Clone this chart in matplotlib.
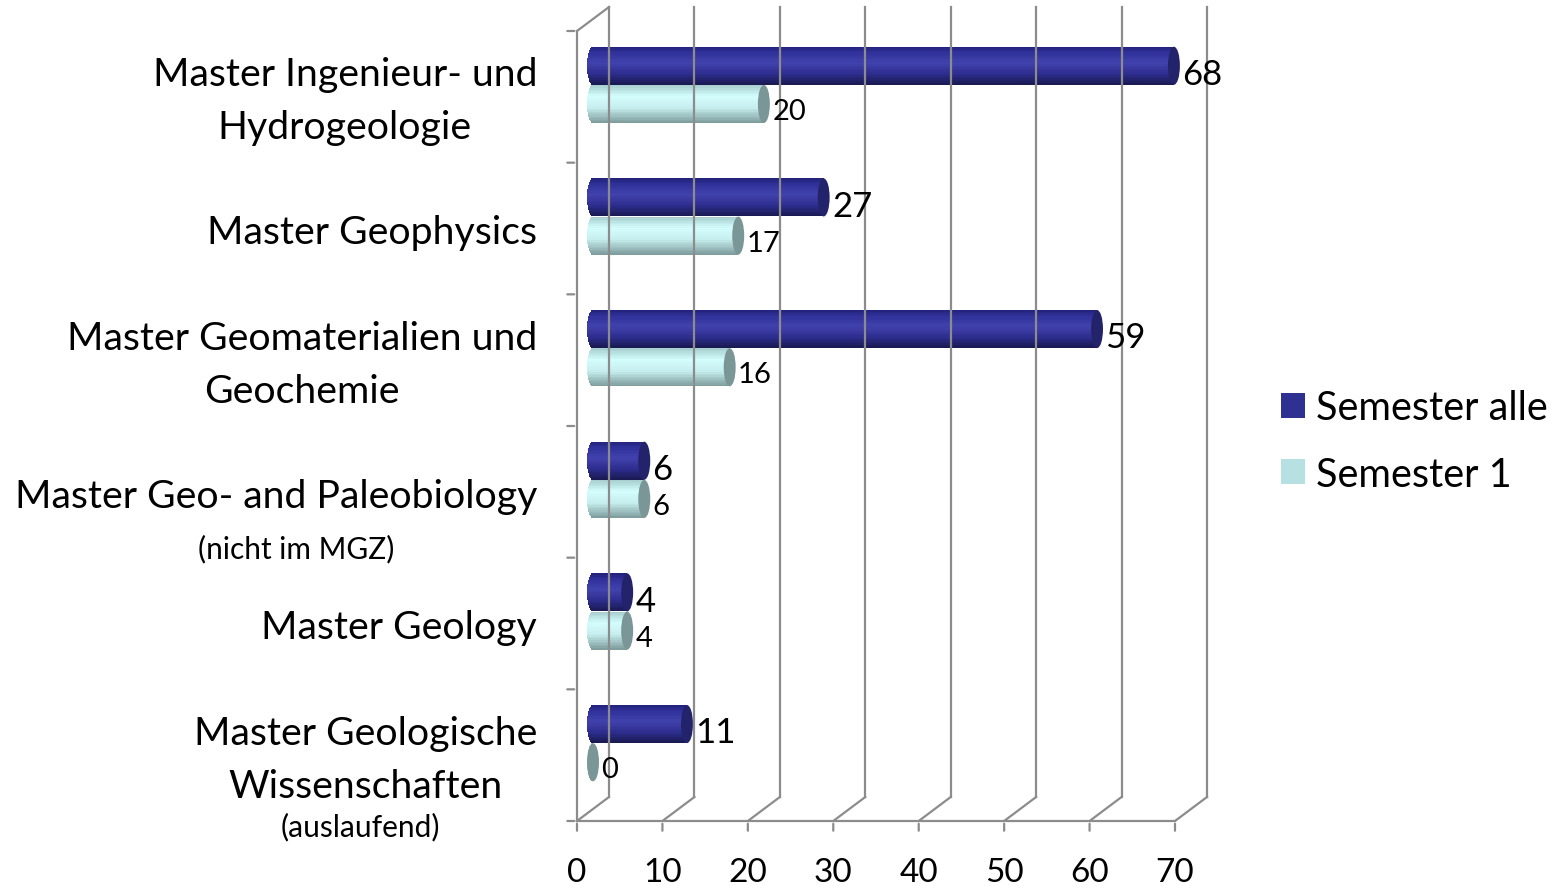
import numpy as np
import matplotlib
matplotlib.use("Agg")
import matplotlib.pyplot as plt
import matplotlib.transforms as mtransforms
from matplotlib.patches import Ellipse, Patch

plt.rcParams['font.family'] = ['Lato', 'DejaVu Sans']

# Daten (von unten nach oben)
categories = [
    "Master Geologische\nWissenschaften",
    "Master Geology",
    "Master Geo- and Paleobiology",
    "Master Geomaterialien und\nGeochemie",
    "Master Geophysics",
    "Master Ingenieur- und\nHydrogeologie",
]
notes = {0: "(auslaufend)", 2: "(nicht im MGZ)"}
semester_alle = [11, 4, 6, 59, 27, 68]
semester_1 = [0, 4, 6, 16, 17, 20]
x_ticks = [0, 10, 20, 30, 40, 50, 60, 70]

W, H = 1560, 887
fig = plt.figure(figsize=(15.6, 8.87), dpi=100)
ax = fig.add_axes([577 / W, (H - 822) / H, (1175 - 577) / W, (822 - 32) / H])
ax.set_xlim(0, 70)
ax.set_ylim(0, 6)
ax.axis('off')

# Tiefe des 3D-Effekts (in Pixeln)
back = mtransforms.offset_copy(ax.transData, fig=fig, x=32, y=24, units='dots')
mid = mtransforms.offset_copy(ax.transData, fig=fig, x=16, y=12, units='dots')

grid_c = '#8c8c8c'
lw = 1.6

# Rückwand: vertikale Gitterlinien + Bodenlinien
for xt in x_ticks:
    ax.plot([xt, xt], [0, 6], color=grid_c, lw=lw, transform=back, clip_on=False)
    # Diagonale vom vorderen Boden zur Rückwand
    p0 = ax.transData.transform((xt, 0))
    p1 = back.transform((xt, 0))
    fig.add_artist(plt.Line2D([p0[0] / W, p1[0] / W], [p0[1] / H, p1[1] / H],
                              color=grid_c, lw=lw))
    # Tickmarke unten
    ax.annotate('', xy=(xt, 0), xytext=(0, -9), textcoords='offset points',
                arrowprops=dict(arrowstyle='-', color=grid_c, lw=lw))
    ax.annotate(str(xt), xy=(xt, 0), xytext=(0, -37), textcoords='offset points',
                ha='center', va='center', fontsize=24)

# vordere Achsen
ax.plot([0, 70], [0, 0], color=grid_c, lw=lw, clip_on=False)
ax.plot([0, 0], [0, 6], color=grid_c, lw=lw, clip_on=False)
p0 = ax.transData.transform((0, 6))
p1 = back.transform((0, 6))
fig.add_artist(plt.Line2D([p0[0] / W, p1[0] / W], [p0[1] / H, p1[1] / H], color=grid_c, lw=lw))
for yb in range(7):
    ax.annotate('', xy=(0, yb), xytext=(-9, 0), textcoords='offset points',
                arrowprops=dict(arrowstyle='-', color=grid_c, lw=lw))


def shade(keys, t):
    pos = [k[0] for k in keys]
    cols = np.array([matplotlib.colors.to_rgb(k[1]) for k in keys])
    return tuple(np.interp(t, pos, cols[:, i]) for i in range(3))


dark_keys = [(0, '#22227a'), (0.15, '#30309a'), (0.42, '#4242ae'), (0.7, '#2e2e90'), (1, '#181850')]
light_keys = [(0, '#a4cccc'), (0.3, '#d4fdfd'), (0.6, '#c6eeee'), (1, '#7c9a9a')]

bar_h = 0.289
cap_w = 1.4
n_strip = 24
yc = np.arange(6) + 0.5


def cylinder(values, centers, keys, cap_color):
    values = np.array(values, dtype=float)
    for j in range(n_strip):
        t = (j + 0.5) / n_strip
        s = np.sqrt(max(0.0, 1 - (2 * t - 1) ** 2))
        y = centers + bar_h / 2 - (j + 0.5) * bar_h / n_strip
        left = -cap_w / 2 * s
        ax.barh(y, values - left, left=left, height=bar_h / n_strip * 1.05,
                color=shade(keys, t), linewidth=0, transform=mid, clip_on=False)
    for v, c in zip(values, centers):
        ax.add_patch(Ellipse((v, c), cap_w, bar_h, facecolor=cap_color,
                             edgecolor='none', transform=mid, clip_on=False))


cylinder(semester_alle, yc + 0.145, dark_keys, '#23236b')
cylinder(semester_1, yc - 0.145, light_keys, '#7a9696')

for v, c in zip(semester_alle, yc + 0.145):
    ax.annotate(str(v), xy=(v, c), xycoords=mid, xytext=(6, -6), textcoords='offset points',
                ha='left', va='center', fontsize=25, annotation_clip=False)
for v, c in zip(semester_1, yc - 0.145):
    ax.annotate(str(v), xy=(v, c), xycoords=mid, xytext=(6, -5), textcoords='offset points',
                ha='left', va='center', fontsize=21, annotation_clip=False)

# Kategorienbeschriftung
label_x = (537 - 577) / 8.543
for i, cat in enumerate(categories):
    y = yc[i] - 0.03
    ax.text(label_x, y, cat, ha='right', va='center', multialignment='center',
            fontsize=28.3, linespacing=1.58, clip_on=False)
    if i in notes:
        nx = (296 - 577) / 8.543 if i == 2 else (360 - 577) / 8.543
        ny = yc[i] - (0.43 if i == 2 else 0.54)
        ax.text(nx, ny, notes[i], ha='center', va='center', fontsize=21.5, clip_on=False)

handles = [Patch(facecolor='#2e3192', edgecolor='none', label='Semester alle'),
           Patch(facecolor='#b7e0e3', edgecolor='none', label='Semester 1')]
fig.legend(handles=handles, loc='center left', bbox_to_anchor=(1281 / W, 1 - 442 / H),
           frameon=False, fontsize=28.5, handlelength=0.6, handleheight=0.6,
           handletextpad=0.28, labelspacing=0.75, borderpad=0, borderaxespad=0)

fig.savefig('out.png', dpi=100)
